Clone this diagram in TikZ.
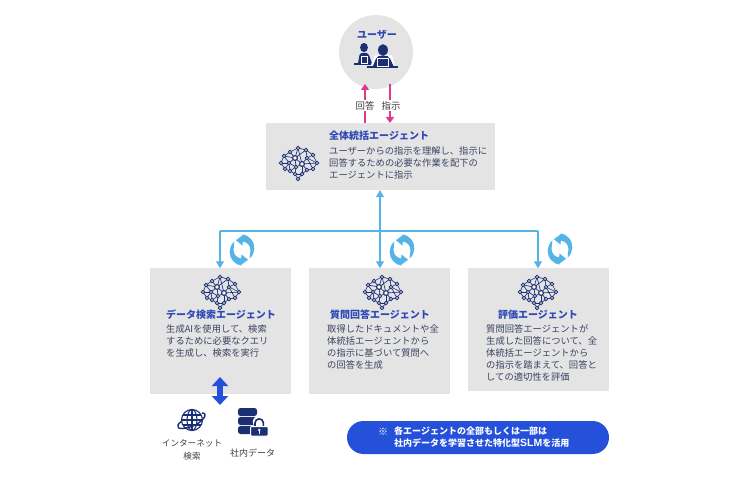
\documentclass[tikz,border=0pt]{standalone}
\usepackage{fontspec}
\setmainfont{Noto Sans CJK JP}
\newfontfamily\latinbold{Liberation Sans}[BoldFont={Liberation Sans Bold}]
\usetikzlibrary{arrows.meta}
\definecolor{boxgrey}{HTML}{E4E4E5}
\definecolor{navy}{HTML}{1B2F72}
\definecolor{headblue}{HTML}{2F48B4}
\definecolor{bodytxt}{HTML}{3A4360}
\definecolor{pink}{HTML}{E0388F}
\definecolor{sky}{HTML}{54B4E6}
\definecolor{royal}{HTML}{2450DA}
\tikzset{
  panel/.style={fill=boxgrey,draw=none,inner sep=0pt,minimum width=#1},
  head/.style={font=\fontsize{10}{12}\selectfont\bfseries,text=headblue,inner sep=0pt},
  body/.style={font=\fontsize{9.3}{12}\selectfont,text=bodytxt,align=left,inner sep=0pt,anchor=north west},
  small/.style={font=\fontsize{9.4}{12}\selectfont,text=black!75,align=center,inner sep=0pt},
  pinkarrow/.style={draw=pink,line width=1.6pt,-{Triangle[length=6pt,width=8pt]}},
  skyline/.style={draw=sky,line width=1.1pt},
  skyarrow/.style={skyline,-{Triangle[length=7pt,width=8pt]}},
  brainpic/.pic={
    \foreach \n/\p in {a/{-18,1},b/{-15,-6},c/{-9,-10},d/{-1,-14},e/{7,-12},f/{14,-7},g/{18,1},h/{14,7},i/{8,8},j/{3,12},k/{-4,12},l/{-1,17},m/{-9,9},n/{-14,7},o/{-4,-4},p/{3,2},q/{8,-4},r/{-3,5},s/{-10,1}}
      {\coordinate (-\n) at (\p);}
    \foreach \u/\v in {a/b,b/c,c/d,d/e,e/f,f/g,g/h,h/i,i/j,j/k,k/l,k/m,m/n,n/a,o/c,o/d,o/e,o/s,o/p,o/r,o/b,p/q,p/d,p/r,p/i,p/j,p/g,q/e,q/f,q/g,q/h,r/k,r/m,r/s,s/a,s/n,s/b,s/m,j/l}
      {\draw[navy,line width=.65pt] (-\u) -- (-\v);}
    \foreach \n in {a,b,c,d,e,f,g,h,i,j,k,l,m,n,r,s,q}
      {\filldraw[fill=white,draw=navy,line width=.9pt] (-\n) circle (1.7);}
    \foreach \n in {o,p}
      {\filldraw[fill=white,draw=navy,line width=1.1pt] (-\n) circle (2.4);}
  },
  cyclepic/.pic={
    \begin{scope}[yscale=-1]
    \foreach \r in {0,180}{
      \begin{scope}[rotate=\r]
      \fill[sky] (-48:11.5) arc[start angle=-48,end angle=84,radius=14] -- (84:15.5) -- (122:11.5) -- (84:4.5) -- (84:8.5)
        arc[start angle=84,end angle=-5,radius=8.5] .. controls (-20:8.7) and (-35:9.5) .. (-48:11.5) -- cycle;
      \end{scope}}
    \end{scope}
  }
}
\begin{document}
\begin{tikzpicture}[x=1pt,y=-1pt]
\useasboundingbox (0,0) rectangle (745,497);
\fill[white] (0,0) rectangle (745,497);
% panels
\node[panel=229pt,minimum height=67pt] (top) at (380.5,156.5) {};
\node[panel=141pt,minimum height=125pt] (left) at (220.5,331) {};
\node[panel=141pt,minimum height=125pt] (mid) at (379.5,331) {};
\node[panel=141pt,minimum height=122pt] (right) at (538.5,329.5) {};
\node[circle,fill=boxgrey,minimum size=74pt,inner sep=0pt] (user) at (376,52) {};
\node[head] (userlabel) at (377,34.5) {ユーザー};
% user icon
\begin{scope}[navy]
  \fill (364,47.5) ellipse (3.9 and 4.6);
  \fill (358,63.5) -- (359.5,55) .. controls (360,52) and (368,52) .. (369,55) -- (372,63.5) -- cycle;
  \fill (354,63.2) rectangle (371,64.8);
  \draw[white,line width=.4pt] (361,56.5) rectangle (367.5,63);
  \fill[white] (371,67) -- (374.6,55.5) -- (392,55.5) -- (395,67) -- cycle;
  \fill (383,50) ellipse (4.9 and 5.8);
  \fill (373,66) -- (376,58.5) .. controls (377,54.5) and (389,54.5) .. (390,58.5) -- (393.5,66) -- cycle;
  \fill (367,66.2) rectangle (398,68);
  \draw[white,line width=.4pt] (377,58.5) rectangle (388.5,66);
\end{scope}
% pink arrows
\coordinate (upS) at (365,123);
\coordinate (upE) at (365,84);
\coordinate (dnS) at (390,84);
\coordinate (dnE) at (390,123);
\draw[pinkarrow] (upS) -- (upE);
\draw[pinkarrow] (dnS) -- (dnE);
\node[small,fill=white,inner ysep=1pt,inner xsep=1pt] (answer) at (365,105.5) {回答};
\node[small,fill=white,inner ysep=1pt,inner xsep=1pt] (order) at (391,105.5) {指示};
% top content
\node[head,anchor=west] (toph) at (329,136) {全体統括エージェント};
\node[body] (topb) at (329,146) {ユーザーからの指示を理解し、指示に\\回答するための必要な作業を配下の\\エージェントに指示};
\pic at (299,162) {brainpic};
% sky connectors
\coordinate (hL) at (220,231);
\coordinate (hR) at (538,231);
\coordinate (hM) at (380,231);
\draw[skyline,{Triangle[length=7pt,width=8pt]}-{Triangle[length=7pt,width=8pt]}] (top.south -| hM) -- (mid.north -| hM);
\draw[skyline] (hL) -- (hR);
\draw[skyarrow] (hL) -- (left.north -| hL);
\draw[skyarrow] (hR) -- (right.north -| hR);
\pic at (242,250) {cyclepic};
\pic at (402,250) {cyclepic};
\pic at (560,249) {cyclepic};
% lower content
\pic at (221,291) {brainpic};
\pic at (383,291) {brainpic};
\pic at (538,291) {brainpic};
\node[head] (lh) at (221,315) {データ検索エージェント};
\node[head] (mh) at (380,315) {質問回答エージェント};
\node[head] (rh) at (538,315) {評価エージェント};
\node[body] (lb) at (166,324) {生成AIを使用して、検索\\するために必要なクエリ\\を生成し、検索を実行};
\node[body] (mb) at (327,324) {取得したドキュメントや全\\体統括エージェントから\\の指示に基づいて質問へ\\の回答を生成};
\node[body] (rb) at (486,324) {質問回答エージェントが\\生成した回答について、全\\体統括エージェントから\\の指示を踏まえて、回答と\\しての適切性を評価};
% double arrow
\coordinate (dbS) at (220,377);
\coordinate (dbE) at (220,405);
\draw[royal,line width=5.5pt,{Triangle[length=9pt,width=16pt]}-{Triangle[length=9pt,width=16pt]}] (dbS) -- (dbE);
% globe
\begin{scope}[shift={(192,420)},navy,line width=1.1pt]
  \draw (0,0) circle (10.5);
  \draw (0,0) ellipse (5 and 10.5);
  \draw (0,-10.5) -- (0,10.5);
  \draw (-10.5,0) -- (10.5,0);
  \draw (-9,-5) -- (9,-5);
  \draw (-9,5) -- (9,5);
  \draw[line width=1.4pt] (10,-7) .. controls (17,-7) and (11,2) .. (1,6) .. controls (-7,9) and (-16,10) .. (-14,5) .. controls (-13.5,3.5) and (-12,2.5) .. (-10.5,1.5);
\end{scope}
% database and lock
\begin{scope}[navy]
  \fill[rounded corners=2.5pt] (238,408) rectangle (257,416);
  \fill[rounded corners=2.5pt] (238,417) rectangle (257,425);
  \fill[rounded corners=2.5pt] (238,426) rectangle (257,434);
  \fill[white] (259,422) circle (6.2);
  \draw[navy,line width=1.6pt] (255,427) -- (255,423) arc[start angle=180,end angle=360,x radius=4.2,y radius=4.2] -- (263.4,427);
  \filldraw[fill=navy,draw=white,line width=1pt,rounded corners=1pt] (250.5,426.5) rectangle (268,436);
  \fill[white] (259.2,430) circle (1.4);
  \fill[white] (258.5,430.5) rectangle (259.9,433.5);
\end{scope}
\node[small,font=\fontsize{8.6}{13}\selectfont] (net) at (192,450) {インターネット\\検索};
\node[small,font=\fontsize{9}{12}\selectfont] (data) at (252.5,453) {社内データ};
% pill
\node[fill=royal,rounded corners=16.5pt,minimum width=262pt,minimum height=33pt,inner sep=0pt] (pill) at (478,437.5) {};
\node[font=\fontsize{9}{12}\selectfont\bfseries,text=white,align=left,anchor=west,inner sep=0pt] (pilltxt) at (394,437.5) {各エージェントの全部もしくは一部は\\社内データを学習させた特化型{\fontsize{10.5}{12}\selectfont\latinbold\bfseries SLM}を活用};
\node[font=\fontsize{10}{12}\selectfont,text=white,inner sep=0pt] (mark) at (383,431.5) {※};
\end{tikzpicture}
\end{document}
